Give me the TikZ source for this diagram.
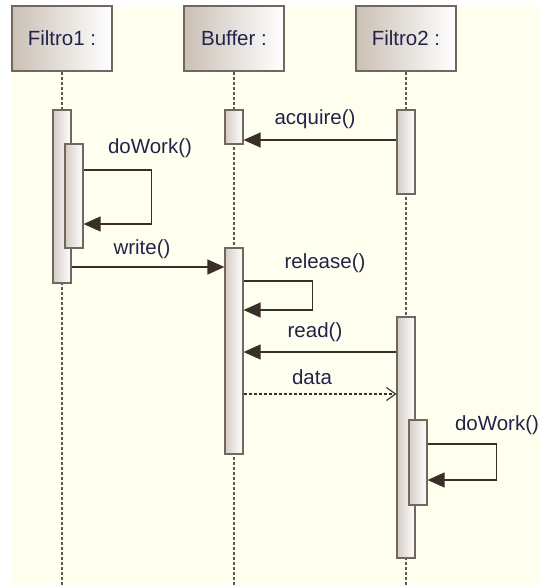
\documentclass[tikz,border=0pt]{standalone}
\usepackage{fontspec}
\setmainfont{Liberation Sans}
\usetikzlibrary{arrows.meta,calc}

\definecolor{bgcol}{HTML}{FFFFF0}
\definecolor{headtan}{HTML}{CAC0B5}
\definecolor{bartan}{HTML}{D4CCC5}
\definecolor{edgecol}{HTML}{716660}
\definecolor{lifecol}{HTML}{605650}
\definecolor{msgcol}{HTML}{3A2E29}
\definecolor{txtcol}{HTML}{23234A}

\tikzset{
	head/.style={draw=edgecol, line width=1.4pt, left color=headtan, right color=white,
		minimum width=100pt, minimum height=65pt, inner sep=0pt,
		font=\fontsize{20.5}{24}\selectfont, text=txtcol},
	actbar/.style={draw=edgecol, line width=1.2pt, left color=bartan, right color=white,
		inner sep=0pt, minimum width=18pt},
	life/.style={lifecol, line width=1.4pt, dash pattern=on 3pt off 2pt},
	msg/.style={msgcol, line width=1.3pt, -{Triangle[length=17pt,width=15pt]}},
	reply/.style={msgcol, line width=1.1pt, dash pattern=on 3pt off 2pt,
		-{Straight Barb[length=9pt,width=13pt]}},
	lbl/.style={font=\fontsize{20.5}{24}\selectfont, text=txtcol, inner sep=0pt}
}

\begin{document}
\begin{tikzpicture}[x=1pt, y=-1pt]
	\useasboundingbox (0,0) rectangle (540,586);
	\fill[bgcol] (12,6) rectangle (540,586);

	% lifelines with their heads
	\foreach \nm/\x/\txt in {f1/62/Filtro1 :, buf/234/Buffer :, f2/406/Filtro2 :} {
		\node[head] (\nm) at (\x,38.5) {\txt};
		\draw[life] (\nm.south) -- (\nm.south |- 0,586);
	}

	% activation bars
	\node[actbar, minimum height=173pt] (f1a) at (62,196.5) {};
	\node[actbar, minimum height=104pt] (f1b) at (74,196) {};
	\node[actbar, minimum height=34pt] (bufa) at (234,127) {};
	\node[actbar, minimum height=206pt] (bufb) at (234,351) {};
	\node[actbar, minimum height=84pt] (f2a) at (406,152) {};
	\node[actbar, minimum height=241pt] (f2b) at (406,437.5) {};
	\node[actbar, minimum height=85pt] (f2c) at (418,462.5) {};

	% messages
	\draw[msg] (f2a.west |- 0,140) -- (bufa.east |- 0,140);
	\node[lbl] (lacq) at (315,119) {acquire()};

	\draw[msg] (f1b.east |- 0,170) -- ++(68,0) |- (f1b.east |- 0,224);
	\node[lbl] (lwork1) at (150,148) {doWork()};

	\draw[msg] (f1a.east |- 0,267) -- (bufb.west |- 0,267);
	\node[lbl] (lwrite) at (142,249) {write()};

	\draw[msg] (bufb.east |- 0,281) -- ++(69,0) |- (bufb.east |- 0,310);
	\node[lbl] (lrel) at (325,263) {release()};

	\draw[msg] (f2b.west |- 0,352) -- (bufb.east |- 0,352);
	\node[lbl] (lread) at (315,332) {read()};

	\draw[reply] (bufb.east |- 0,394) -- (f2b.west |- 0,394);
	\node[lbl] (ldata) at (312,377) {data};

	\draw[msg] (f2c.east |- 0,444) -- ++(69,0) |- (f2c.east |- 0,480);
	\node[lbl] (lwork2) at (497,425) {doWork()};
\end{tikzpicture}
\end{document}
